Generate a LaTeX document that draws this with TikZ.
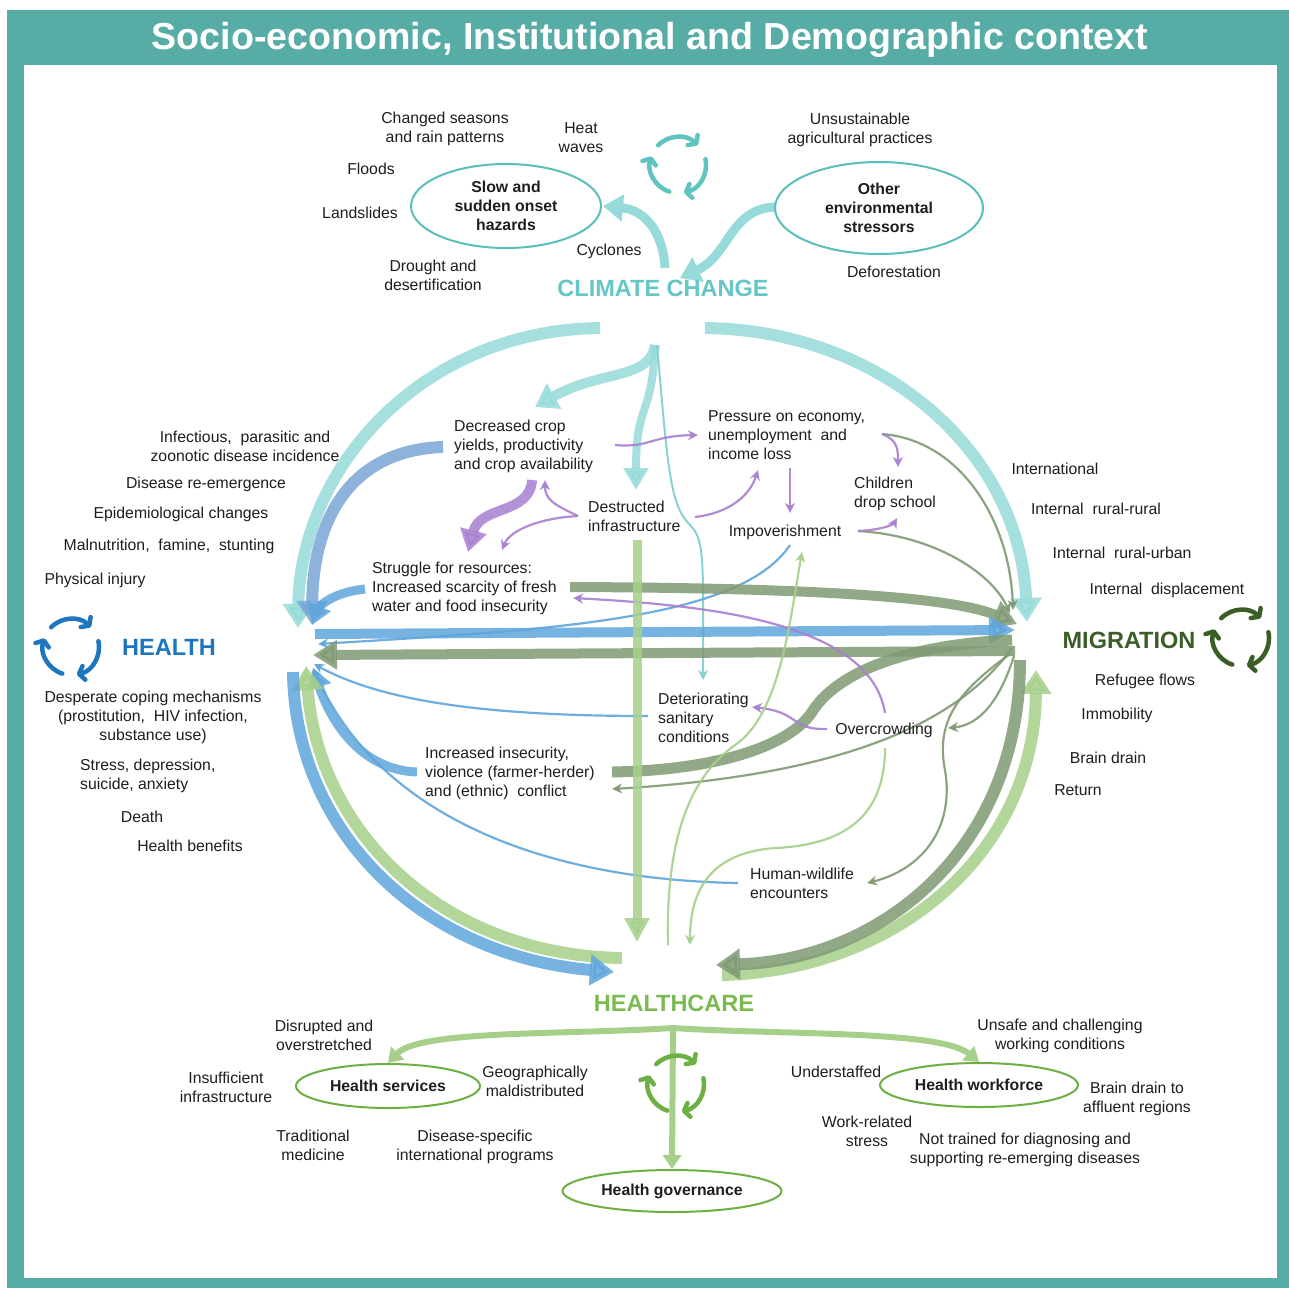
\documentclass[tikz,border=0pt]{standalone}
\usepackage{fontspec}
\setmainfont{Liberation Sans}
\usetikzlibrary{arrows.meta,shapes.geometric}

\definecolor{frameteal}{RGB}{88,172,166}
\definecolor{ccteal}{RGB}{150,219,217}
\definecolor{cctext}{RGB}{100,199,198}
\definecolor{ellteal}{RGB}{90,190,186}
\definecolor{iconteal}{RGB}{96,196,192}
\definecolor{hblue}{RGB}{30,118,190}
\definecolor{ablue}{RGB}{95,166,220}
\definecolor{sblue}{RGB}{122,166,214}
\definecolor{mgreen}{RGB}{58,94,38}
\definecolor{agray}{RGB}{128,154,116}
\definecolor{lgreen}{RGB}{166,208,138}
\definecolor{hcgreen}{RGB}{122,186,80}
\definecolor{egreen}{RGB}{108,176,68}
\definecolor{apurple}{RGB}{168,128,208}
\definecolor{txtc}{RGB}{30,30,30}

\tikzset{
  txt/.style={font=\fontsize{15.8}{19}\selectfont, text=txtc, align=center, inner sep=0pt, yshift=-1.5pt},
  txtl/.style={txt, align=left},
  bigl/.style={font=\bfseries\fontsize{23.5}{28}\selectfont, inner sep=0pt},
  ell/.style={ellipse, draw, line width=2pt, inner sep=0pt, text=txtc,
              font=\bfseries\fontsize{15.8}{19}\selectfont, align=center},
  fat/.style={line width=12pt, opacity=0.85, -{Triangle[width=30pt,length=24pt]}},
  mid/.style={line width=9pt, opacity=0.85, -{Triangle[width=24pt,length=20pt]}},
  thinarr/.style={line width=2.2pt, opacity=0.9, -{Stealth[width=10pt,length=10pt,inset=3pt]}},
  branch/.style={line width=6pt, draw=lgreen, -{Triangle[width=18pt,length=14pt]}},
  cycle icon/.pic={
    \draw[line width=4.5pt, line cap=round, -{Straight Barb[length=5pt,width=14pt,round]}]
      (-135:28) arc[start angle=-135, end angle=-45, radius=28];
    \draw[line width=4.5pt, line cap=round, -{Straight Barb[length=5pt,width=14pt,round]}]
      (-12:28) arc[start angle=-12, end angle=78, radius=28];
    \draw[line width=4.5pt, line cap=round, -{Straight Barb[length=5pt,width=14pt,round]}]
      (108:28) arc[start angle=108, end angle=198, radius=28];
  }
}

\begin{document}
\begin{tikzpicture}[x=1pt,y=-1pt]
\useasboundingbox (0,0) rectangle (1289,1288);

% frame and heading
\fill[frameteal] (7,10) rectangle (1289,1288);
\fill[white] (24,65) rectangle (1277,1278);
\node[font=\bfseries\fontsize{37.6}{44}\selectfont, text=white, inner sep=0pt] (title) at (650,40)
  {Socio-economic, Institutional and Demographic context};

% ---------------- end points of the connectors ----------------
\coordinate (ccUp) at (665,268);
\coordinate (slowE) at (603,206);
\coordinate (otherW) at (776,207);
\coordinate (ccIn) at (680,278);
\coordinate (ccL) at (600,328);
\coordinate (ccR) at (705,328);
\coordinate (ccHub) at (655,345);
\coordinate (ccHubT) at (657,345);
\coordinate (cropIn) at (535,407);
\coordinate (destrIn) at (636,490);
\coordinate (deterIn) at (703,680);
\coordinate (cropW) at (443,447);
\coordinate (cropS) at (532,480);
\coordinate (cropSE) at (545,480);
\coordinate (cropE) at (615,445);
\coordinate (strugW) at (365,589);
\coordinate (strugIn) at (468,552);
\coordinate (strugIn2) at (502,550);
\coordinate (strugE) at (570,587);
\coordinate (strugEin) at (573,598);
\coordinate (destrW) at (578,516);
\coordinate (destrE) at (695,517);
\coordinate (destrS) at (637,540);
\coordinate (pressW) at (698,435);
\coordinate (pressS) at (758,470);
\coordinate (pressS2) at (790,468);
\coordinate (pressE) at (882,434);
\coordinate (impN) at (790,513);
\coordinate (impE) at (858,531);
\coordinate (impS) at (790,545);
\coordinate (impIn) at (802,552);
\coordinate (childN) at (898,467);
\coordinate (childS) at (897,518);
\coordinate (overN) at (885,713);
\coordinate (overW) at (827,729);
\coordinate (overE) at (948,728);
\coordinate (overS) at (885,748);
\coordinate (deterE) at (752,707);
\coordinate (deterW) at (648,716);
\coordinate (insW) at (417,772);
\coordinate (insE) at (612,772);
\coordinate (insEin) at (612,789);
\coordinate (wildW) at (738,883);
\coordinate (wildE) at (867,883);
% health side
\coordinate (hA) at (298,628);
\coordinate (hB) at (312,625);
\coordinate (hOut) at (315,634);
\coordinate (hIn1) at (318,644);
\coordinate (hIn2) at (313,655);
\coordinate (hIn3) at (314,664);
\coordinate (hIn4) at (313,668);
\coordinate (hLow) at (293,672);
\coordinate (hUp) at (306,666);
% migration side
\coordinate (mA) at (1027,622);
\coordinate (mB) at (1013,610);
\coordinate (mC) at (1010,613);
\coordinate (mD) at (1017,624);
\coordinate (mE) at (1015,630);
\coordinate (mF) at (1015,651);
\coordinate (mG) at (1012,640);
\coordinate (mH) at (1012,648);
\coordinate (mI) at (1014,656);
\coordinate (mJ) at (1010,654);
\coordinate (mK) at (1020,660);
\coordinate (mL) at (1036,670);
% healthcare side
\coordinate (hcA) at (614,972);
\coordinate (hcB) at (622,958);
\coordinate (hcC) at (637,942);
\coordinate (hcD) at (668,945);
\coordinate (hcE) at (690,945);
\coordinate (hcF) at (716,965);
\coordinate (hcG) at (722,975);
\coordinate (hcHub) at (673,1028);

% ---------------- climate change links ----------------
\draw[ccteal, line width=9pt, -{Triangle[width=26pt,length=20pt]}]
  (ccUp) .. controls (663,232) and (645,210) .. (slowE);
\draw[ccteal, line width=9pt, -{Triangle[width=26pt,length=20pt]}]
  (otherW) .. controls (730,208) and (730,255) .. (ccIn);
\draw[ccteal, fat] (ccL) .. controls (420,330) and (300,470) .. (hA);
\draw[ccteal, fat] (ccR) .. controls (880,330) and (1020,450) .. (mA);
\draw[ccteal, line width=10pt, opacity=0.85, -{Triangle[width=28pt,length=22pt]}]
  (ccHub) .. controls (650,380) and (600,370) .. (cropIn);
\draw[ccteal, line width=8pt, opacity=0.85, -{Triangle[width=24pt,length=22pt]}]
  (ccHub) .. controls (652,420) and (636,400) .. (destrIn);
\draw[ccteal!80!frameteal, line width=2pt, -{Stealth[width=10pt,length=10pt,inset=3pt]}]
  (ccHubT) .. controls (668,470) and (670,505) .. (690,525)
  .. controls (705,540) and (703,560) .. (deterIn);

% ---------------- links into health ----------------
\draw[sblue, fat] (cropW) .. controls (350,450) and (313,520) .. (hB);
\draw[ablue, mid] (strugW) .. controls (335,592) and (320,605) .. (hB);
\draw[ablue, thinarr] (impS) .. controls (740,620) and (550,630) .. (hIn1);
\draw[ablue, thinarr] (deterW) .. controls (480,716) and (380,700) .. (hIn3);
\draw[ablue, mid] (insW) .. controls (360,770) and (330,720) .. (hIn4);
\draw[ablue, thinarr] (wildW) .. controls (550,880) and (380,820) .. (hIn4);
\draw[agray, line width=10pt, opacity=0.85, -{Triangle[width=28pt,length=24pt]}] (mF) -- (hIn2);
\draw[lgreen, fat] (hcB) .. controls (440,955) and (318,830) .. (hUp);

% ---------------- links into migration ----------------
\draw[agray, line width=10pt, opacity=0.85, -{Triangle[width=28pt,length=24pt]}]
  (strugE) .. controls (850,588) and (960,600) .. (mD);
\draw[ablue, line width=10pt, opacity=0.85, -{Triangle[width=26pt,length=26pt]}] (hOut) -- (mE);
\draw[agray, thinarr] (pressE) .. controls (960,440) and (1010,520) .. (mB);
\draw[agray, thinarr] (impE) .. controls (930,535) and (990,570) .. (mC);
\draw[agray, line width=11pt, opacity=0.85]
  (insE) .. controls (720,770) and (790,745) .. (812,712)
  .. controls (835,675) and (900,645) .. (mG);
\draw[lgreen, fat] (hcG) .. controls (900,970) and (1035,850) .. (mL);

% ---------------- links out of migration ----------------
\draw[agray, thinarr] (mH) .. controls (960,720) and (850,775) .. (insEin);
\draw[agray, thinarr] (mI) .. controls (1000,700) and (980,725) .. (overE);
\draw[agray, thinarr] (mJ) .. controls (960,690) and (935,720) .. (945,770)
  .. controls (955,830) and (920,870) .. (wildE);
\draw[agray, fat] (mK) .. controls (1020,850) and (880,960) .. (hcF);

% ---------------- links out of health ----------------
\draw[ablue, fat] (hLow) .. controls (295,830) and (420,955) .. (hcA);

% ---------------- purple chain ----------------
\draw[apurple, line width=10pt, opacity=0.85, -{Triangle[width=26pt,length=22pt]}]
  (cropS) .. controls (530,515) and (480,505) .. (strugIn);
\draw[apurple, thinarr] (destrW) .. controls (555,505) and (545,500) .. (cropSE);
\draw[apurple, thinarr] (destrW) .. controls (540,518) and (510,530) .. (strugIn2);
\draw[apurple, thinarr] (cropE) .. controls (650,448) and (650,436) .. (pressW);
\draw[apurple, thinarr] (destrE) .. controls (730,513) and (750,495) .. (pressS);
\draw[apurple, thinarr] (pressS2) -- (impN);
\draw[apurple, thinarr] (pressE) .. controls (898,440) and (898,450) .. (childN);
\draw[apurple, thinarr] (impE) .. controls (880,530) and (893,525) .. (childS);
\draw[apurple, thinarr] (overN) .. controls (870,620) and (700,605) .. (strugEin);
\draw[apurple, thinarr] (overW) .. controls (790,730) and (800,712) .. (deterE);

% ---------------- healthcare links ----------------
\draw[lgreen, line width=9pt, opacity=0.85, -{Triangle[width=24pt,length=24pt]}] (destrS) -- (hcC);
\draw[lgreen, thinarr] (hcD) .. controls (665,820) and (700,770) .. (735,745)
  .. controls (780,715) and (790,620) .. (impIn);
\draw[lgreen, thinarr] (overS) .. controls (885,820) and (840,845) .. (775,848)
  .. controls (720,852) and (690,880) .. (hcE);

% ---------------- top: climate change ----------------
\node[txt] (chseas) at (445,127) {Changed seasons\\and rain patterns};
\node[txt] (heat) at (581,136) {Heat\\waves};
\node[txt] (floods) at (371,167) {Floods};
\node[txt] (lands) at (360,211) {Landslides};
\node[txt] (drought) at (433,274) {Drought and\\desertification};
\node[txt] (cyclones) at (609,250) {Cyclones};
\node[ell, draw=ellteal, minimum width=190pt, minimum height=84pt] (slow) at (506,206)
  {Slow and\\sudden onset\\hazards};
\node[txt] (unsust) at (860,128) {Unsustainable\\agricultural practices};
\node[ell, draw=ellteal, minimum width=208pt, minimum height=92pt] (other) at (879,208)
  {Other\\environmental\\stressors};
\node[txt] (defor) at (894,270) {Deforestation};
\node[bigl, text=cctext] (cc) at (663,288) {CLIMATE CHANGE};
\pic[color=iconteal] (cccycle) at (678,165) {cycle icon};

% ---------------- left: health ----------------
\node[txt] (infect) at (245,445) {Infectious, \ parasitic and\\zoonotic disease incidence};
\node[txt] (reem) at (206,483) {Disease re-emergence};
\node[txt] (epi) at (181,513) {Epidemiological changes};
\node[txt] (maln) at (169,545) {Malnutrition, \ famine, \ stunting};
\node[txt] (injury) at (95,579) {Physical injury};
\node[bigl, text=hblue] (health) at (169,647) {HEALTH};
\pic[color=hblue] (hcycle) at (71,647) {cycle icon};
\node[txt] (coping) at (153,716) {Desperate coping mechanisms\\(prostitution, \ HIV infection,\\substance use)};
\node[txtl, anchor=west] (stress) at (80,774) {Stress, depression,\\suicide, anxiety};
\node[txt] (death) at (142,815) {Death};
\node[txt] (benefits) at (190,844) {Health benefits};

% ---------------- right: migration ----------------
\node[txt] (intl) at (1055,467) {International};
\node[txt] (rr) at (1096,507) {Internal \ rural-rural};
\node[txt] (ru) at (1122,551) {Internal \ rural-urban};
\node[txt] (idisp) at (1167,589) {Internal \ displacement};
\node[bigl, text=mgreen] (mig) at (1129,640) {MIGRATION};
\pic[color=mgreen] (mcycle) at (1241,638) {cycle icon};
\node[txt] (refugee) at (1145,680) {Refugee flows};
\node[txt] (immob) at (1117,714) {Immobility};
\node[txt] (bdrain) at (1108,756) {Brain drain};
\node[txt] (ret) at (1078,789) {Return};

% ---------------- centre ----------------
\node[txtl, anchor=west] (crop) at (454,445) {Decreased crop\\yields, productivity\\and crop availability};
\node[txtl, anchor=west] (destr) at (588,515) {Destructed\\infrastructure};
\node[txtl, anchor=west] (press) at (708,434) {Pressure on economy,\\unemployment \ and\\income loss};
\node[txtl, anchor=west] (child) at (854,492) {Children\\drop school};
\node[txt] (impov) at (785,531) {Impoverishment};
\node[txtl, anchor=west] (strug) at (372,587) {Struggle for resources:\\Increased scarcity of fresh\\water and food insecurity};
\node[txtl, anchor=west] (deter) at (658,716) {Deteriorating\\sanitary\\conditions};
\node[txt] (overc) at (884,729) {Overcrowding};
\node[txtl, anchor=west] (insec) at (425,772) {Increased insecurity,\\violence (farmer-herder)\\and (ethnic) \ conflict};
\node[txtl, anchor=west] (wild) at (750,882) {Human-wildlife\\encounters};

% ---------------- bottom: healthcare ----------------
\node[bigl, text=hcgreen] (hc) at (674,1003) {HEALTHCARE};
\node[ell, draw=egreen, minimum width=184pt, minimum height=44pt] (hs) at (388,1086) {Health services};
\node[ell, draw=egreen, minimum width=198pt, minimum height=44pt] (hw) at (979,1085) {Health workforce};
\node[ell, draw=egreen, minimum width=219pt, minimum height=42pt] (hg) at (672,1191) {Health governance};
\draw[branch] (hcHub) .. controls (560,1035) and (420,1030) .. (hs.north);
\draw[branch] (hcHub) .. controls (780,1035) and (940,1030) .. (hw.north);
\draw[branch] (hcHub) -- (hg.north);
\pic[color=egreen] (hccycle) at (676,1084) {cycle icon};

\node[txt] (disr) at (324,1034) {Disrupted and\\overstretched};
\node[txt] (insuff) at (226,1086) {Insufficient\\infrastructure};
\node[txt] (geo) at (535,1080) {Geographically\\maldistributed};
\node[txt] (trad) at (313,1144) {Traditional\\medicine};
\node[txt] (dspec) at (475,1145) {Disease-specific\\international programs};
\node[txt] (unsafe) at (1060,1034) {Unsafe and challenging\\working conditions};
\node[txt] (understaffed) at (836,1070) {Understaffed};
\node[txt] (bdrain2) at (1137,1097) {Brain drain to\\affluent regions};
\node[txt] (workrel) at (867,1130) {Work-related\\stress};
\node[txt] (nottrained) at (1025,1148) {Not trained for diagnosing and\\supporting re-emerging diseases};
\end{tikzpicture}
\end{document}
